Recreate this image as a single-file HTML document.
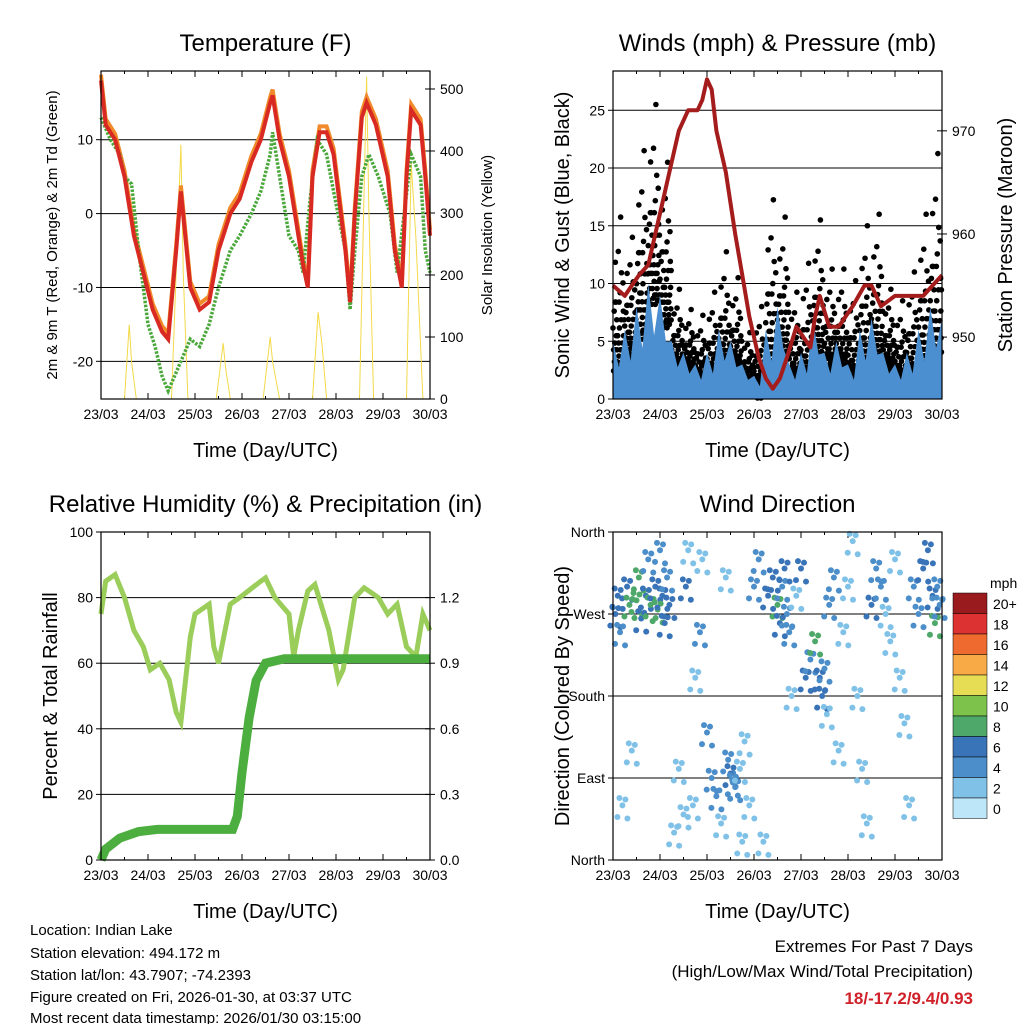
<!DOCTYPE html>
<html><head><meta charset="utf-8"><style>
body{margin:0;background:#fff;}
svg{display:block;font-family:"Liberation Sans",sans-serif;}
</style></head><body>
<svg id="c" width="1024" height="1024" viewBox="0 0 1024 1024" xmlns="http://www.w3.org/2000/svg">
<g id="txt" font-size="15">
<text x="30" y="935">Location: Indian Lake</text>
<text x="30" y="958">Station elevation: 494.172 m</text>
<text x="30" y="980">Station lat/lon: 43.7907; -74.2393</text>
<text x="30" y="1002">Figure created on Fri, 2026-01-30, at 03:37 UTC</text>
<text x="30" y="1023">Most recent data timestamp: 2026/01/30 03:15:00</text>
</g>
<g font-size="17" text-anchor="end">
<text x="973" y="952">Extremes For Past 7 Days</text>
<text x="973" y="977">(High/Low/Max Wind/Total Precipitation)</text>
<text x="973" y="1004" fill="#d0202a" font-weight="bold">18/-17.2/9.4/0.93</text>
</g>
</svg>
<script>
// ---- data ----
const dayLabels=["23/03","24/03","25/03","26/03","27/03","28/03","29/03","30/03"];
const tT=[0,0.1,0.3,0.5,0.7,0.9,1.1,1.3,1.43,1.6,1.7,1.9,2.1,2.3,2.5,2.75,2.95,3.2,3.4,3.6,3.65,3.8,4.0,4.1,4.3,4.4,4.5,4.65,4.8,4.95,5.2,5.3,5.4,5.55,5.65,5.85,6.1,6.25,6.4,6.5,6.6,6.8,6.9,7.0];
const tempRed=[18,12,10,5,-3,-8,-13,-16,-17,-5,3,-10,-13,-12,-5,0,2,7,10,15,16,10,5,1,-7,-10,5,11,11,8,-5,-12,0,13,15,12,5,-5,-10,5,14,12,5,-3];
const tG=[0,0.2,0.4,0.5,0.65,0.8,1.0,1.15,1.3,1.43,1.7,1.9,2.1,2.3,2.5,2.75,2.95,3.2,3.4,3.6,3.65,3.8,4.0,4.2,4.3,4.45,4.6,4.8,4.95,5.2,5.3,5.4,5.55,5.7,5.9,6.15,6.3,6.45,6.6,6.8,6.9,7.0];
const tempGreen=[13,10,8,5,4,-5,-15,-18,-22,-24,-20,-17,-18,-15,-10,-5,-3,0,3,8,11,5,-3,-5,-8,2,10,8,3,-5,-13,-5,5,8,5,0,-8,0,8,5,-5,-8];
const solT=[0.5,0.6,0.65,0.75,1.5,1.7,1.75,1.85,2.45,2.6,2.65,2.75,3.45,3.6,3.65,3.8,4.5,4.62,4.7,4.8,5.5,5.65,5.7,5.8,6.5,6.6,6.7,6.85];
const solar=[0,120,60,0,0,410,200,0,0,90,50,0,0,100,60,0,0,140,90,0,0,520,300,0,0,380,260,0];
const presT=[0,0.25,0.4,0.55,0.75,0.9,1.05,1.2,1.4,1.6,1.8,1.9,2.0,2.1,2.2,2.4,2.6,2.75,2.9,3.1,3.25,3.4,3.55,3.7,3.9,4.05,4.2,4.3,4.4,4.6,4.8,5.1,5.35,5.5,5.7,6.0,6.3,6.6,6.8,7.0];
const pressure=[955,954,955,956,957,960,963,966,970,972,972,973,975,974,970,966,960,956,952,948,946,945,946,948,951,950,949,952,954,951,951,953,955,955,953,954,954,954,955,956];
const gT=[0,0.25,0.5,0.75,1.0,1.25,1.5,1.75,2.0,2.25,2.5,2.75,3.0,3.25,3.5,3.75,4.0,4.25,4.5,4.75,5.0,5.25,5.5,5.75,6.0,6.25,6.5,6.75,7.0];
const gustHi=[17,12,20,26,24,10,8,7,8,13,12,6,5,17,18,9,10,17,11,12,9,14,18,10,8,10,14,22,19];
const gustLo=[2,3,5,8,6,2,2,1,1,2,2,1,0,2,3,1,1,3,2,2,1,2,3,2,1,1,2,3,3];
const windHi=[5,6,8,10,9,5,4,3,4,6,5,3,2,6,8,3,4,7,4,5,3,6,7,4,3,4,6,8,7];
const rhT=[0,0.1,0.3,0.5,0.7,0.9,1.05,1.25,1.45,1.6,1.7,1.8,1.9,2.0,2.3,2.4,2.5,2.75,2.95,3.4,3.5,3.7,4.0,4.1,4.2,4.4,4.55,4.85,5.05,5.15,5.4,5.6,5.9,6.1,6.3,6.5,6.7,6.85,7.0];
const rh=[75,85,87,80,70,65,58,60,55,45,42,55,68,75,78,65,60,78,80,85,86,80,75,62,70,82,84,70,55,58,80,83,80,75,78,65,62,75,70];
const prT=[0,0.1,0.4,0.8,1.2,2.0,2.8,2.9,3.0,3.15,3.3,3.5,3.9,7.0];
const precip=[0,0.05,0.1,0.13,0.14,0.14,0.14,0.2,0.4,0.65,0.82,0.9,0.92,0.92];
const wdT=[0.05,0.1,0.15,0.2,0.3,0.35,0.4,0.5,0.55,0.6,0.7,0.75,0.8,0.9,0.95,1.0,1.05,1.1,1.15,1.2,1.3,1.4,1.5,1.55,1.6,1.7,1.75,1.85,1.9,2.0,2.1,2.2,2.3,2.4,2.45,2.5,2.55,2.6,2.7,2.75,2.8,2.9,3.0,3.1,3.2,3.3,3.4,3.5,3.55,3.6,3.65,3.7,3.75,3.8,3.9,4.0,4.1,4.2,4.3,4.4,4.45,4.5,4.55,4.6,4.7,4.8,4.9,5.0,5.1,5.2,5.3,5.4,5.5,5.6,5.7,5.8,5.9,6.0,6.1,6.2,6.3,6.4,6.5,6.6,6.7,6.8,6.85,6.9,6.95];
const wdDir=[270,290,250,60,300,280,120,285,310,265,290,330,280,300,275,340,290,260,310,280,30,100,50,300,340,60,200,250,330,140,90,70,40,310,110,95,85,80,100,20,130,60,300,330,20,290,310,280,260,300,320,270,250,180,290,320,200,220,240,200,180,210,160,280,310,120,250,300,350,180,100,40,280,320,300,270,240,330,200,150,60,300,270,320,340,290,260,300,280];
const wdSpd=[5,6,4,1,6,7,1,8,7,6,5,4,7,6,8,3,5,5,4,6,1,1,1,6,2,1,1,4,2,4,4,3,2,2,4,5,4,3,2,1,1,1,4,3,1,6,5,7,5,4,5,3,4,2,2,5,5,4,7,6,5,3,2,4,4,1,1,2,2,1,1,1,5,4,3,2,1,2,1,1,1,4,4,6,5,5,7,4,3];
const spdColors=["#bde6f8","#80c1e8","#4c8ec9","#3a74b8","#4ea869","#7dc24b","#e6dd55","#f8aa47","#ee6a2e","#dc3232","#bd2127","#9a1b1e"];
const spdLabels=["0","2","4","6","8","10","12","14","16","18","20+"];

// ---- helpers ----
const svg=document.getElementById('c');const NS="http://www.w3.org/2000/svg";
function el(tag,attrs,parent,text){const e=document.createElementNS(NS,tag);for(const k in attrs)e.setAttribute(k,attrs[k]);if(text!==undefined)e.textContent=text;(parent||svg).appendChild(e);return e;}
function lin(d0,d1,r0,r1){return v=>r0+(v-d0)/(d1-d0)*(r1-r0);}
function panel(name,x0,y0,w,h,title,ylab,y2lab){
 const g=el('g',{});
 
 
 const t=el('text',{x:x0+w/2,y:y0-20,'font-size':24,'text-anchor':'middle'},g,title);
 
 
 const xl=el('text',{x:x0+w/2,y:y0+h+58,'font-size':20,'text-anchor':'middle'},g,'Time (Day/UTC)');
 
 
 const yl=el('text',{transform:`translate(${x0-44},${y0+h/2}) rotate(-90)`,'font-size':ylab.s||20,'text-anchor':'middle'},g,ylab.t);
 
 
 if(y2lab){const y2=el('text',{transform:`translate(${x0+w+y2lab.d},${y0+h/2}) rotate(-90)`,'font-size':y2lab.s,'text-anchor':'middle'},g,y2lab.t);
 
 }
 const X=lin(0,7,x0,x0+w);
 dayLabels.forEach((d,i)=>{const lx=el('text',{x:X(i),y:y0+h+20,'font-size':14,'text-anchor':'middle'},g,d);
  
  
  el('line',{x1:X(i),x2:X(i),y1:y0+h,y2:y0+h-6,stroke:'#000'},g);el('line',{x1:X(i),x2:X(i),y1:y0,y2:y0+6,stroke:'#000'},g);
  if(i<7){el('line',{x1:X(i+0.5),x2:X(i+0.5),y1:y0+h,y2:y0+h-3,stroke:'#000'},g);el('line',{x1:X(i+0.5),x2:X(i+0.5),y1:y0,y2:y0+3,stroke:'#000'},g);}
 });
 return {g,X};
}
function grid(g,x0,w,Y,vals,labels,side){vals.forEach((v,i)=>{const y=Y(v);
 if(side==='L'){el('line',{x1:x0,x2:x0+w,y1:y,y2:y,stroke:'#000','stroke-width':1},g);el('line',{x1:x0-5,x2:x0,y1:y,y2:y,stroke:'#000'},g);
  const l=el('text',{x:x0-8,y:y+5,'font-size':14,'text-anchor':'end'},g,labels[i]);}
 else{el('line',{x1:x0+w,x2:x0+w+5,y1:y,y2:y,stroke:'#000'},g);el('line',{x1:x0+w-5,x2:x0+w,y1:y,y2:y,stroke:'#000'},g);
  const l=el('text',{x:x0+w+10,y:y+5,'font-size':14},g,labels[i]);}
});}
function path(X,Y,ts,vs){return ts.map((t,i)=>(i?'L':'M')+X(t).toFixed(1)+','+Y(vs[i]).toFixed(1)).join('');}
function frame(g,x0,y0,w,h){el('rect',{x:x0,y:y0,width:w,height:h,fill:'none',stroke:'#000','stroke-width':1.2},g);}

// ---- Panel 1: Temperature ----
(function(){const x0=101,y0=71,w=329,h=328;
 const p=panel('temperature-panel',x0,y0,w,h,'Temperature (F)',{t:'2m & 9m T (Red, Orange) & 2m Td (Green)',s:15},{t:'Solar Insolation (Yellow)',d:62,s:15});
 const g=p.g,X=p.X;const Y=lin(-25.1,19.3,y0+h,y0);const Y2=lin(0,529,y0+h,y0);
 grid(g,x0,w,Y,[-20,-10,0,10],['-20','-10','0','10'],'L');
 grid(g,x0,w,Y2,[0,100,200,300,400,500],['0','100','200','300','400','500'],'R');
 const s=el('path',{d:path(X,Y2,solT,solar),fill:'none',stroke:'#f3d94a','stroke-width':1},g);
 
 const o=el('path',{d:path(X,Y,tT,tempRed.map(v=>v+0.8)),fill:'none',stroke:'#f08a2a','stroke-width':4},g);
 
 const gr=el('path',{d:path(X,Y,tG,tempGreen),fill:'none',stroke:'#4aa83a','stroke-width':3.5,'stroke-dasharray':'2.5 1.5'},g);
 
 const r=el('path',{d:path(X,Y,tT,tempRed),fill:'none',stroke:'#d82a22','stroke-width':4},g);
 
 frame(g,x0,y0,w,h);})();

// ---- Panel 2: Winds ----
(function(){const x0=613,y0=71,w=329,h=328;
 const p=panel('winds-panel',x0,y0,w,h,'Winds (mph) & Pressure (mb)',{t:'Sonic Wind & Gust (Blue, Black)',s:20},{t:'Station Pressure (Maroon)',d:70,s:20});
 const g=p.g,X=p.X;const Y=lin(0,28.4,y0+h,y0);const Y2=lin(944,975.8,y0+h,y0);
 grid(g,x0,w,Y,[0,5,10,15,20,25],['0','5','10','15','20','25'],'L');
 grid(g,x0,w,Y2,[950,960,970],['950','960','970'],'R');
 const pat=[[0.05,0.1],[0.15,0.35],[0.25,0.6],[0.35,0.2],[0.45,0.85],[0.55,0.45],[0.65,1.0],[0.75,0.3],[0.85,0.7],[0.95,0.15],[0.1,0.55],[0.3,0.05],[0.4,0.4],[0.5,0.25],[0.6,0.65],[0.7,0.5],[0.8,0.1],[0.9,0.4],[0.2,0.8],[0.6,0.05],[0.05,0.3],[0.35,0.3],[0.55,0.15],[0.75,0.2],[0.95,0.5],
  [0.0,0.45],[0.12,0.2],[0.22,0.3],[0.32,0.5],[0.42,0.12],[0.52,0.6],[0.62,0.3],[0.72,0.75],[0.82,0.35],[0.92,0.25],[0.18,0.6],[0.48,0.35],[0.68,0.15],[0.88,0.55],[0.28,0.4]];
 const pts=el('g',{fill:'#000'},g);
 
 gT.forEach((t,i)=>{if(i===gT.length-1)return;const xa=X(t),xb=X(gT[i+1]);
  const lo=gustLo[i],hi=(gustHi[i]+gustHi[i+1])/2*0.5+gustHi[i]*0.5;
  pat.forEach(q=>{const v=lo+(hi-lo)*Math.pow(q[1],1.5);
   el('circle',{cx:xa+(xb-xa)*q[0],cy:Y(v),r:2.8},pts);});
 });
 const wt=[];const wv=[];gT.forEach((t,i)=>{wt.push(t);wv.push(windHi[i]);if(i<gT.length-1){wt.push(t+0.125);wv.push(windHi[i]*0.55);}});
 const a=el('path',{d:path(X,Y,wt,wv)+`L${X(7)},${Y(0)}L${X(0)},${Y(0)}Z`,fill:'#4b8fd0'},g);
 
 const pr=el('path',{d:path(X,Y2,presT,pressure),fill:'none',stroke:'#a51c1c','stroke-width':4,'stroke-linejoin':'round'},g);
 
 frame(g,x0,y0,w,h);})();

// ---- Panel 3: RH ----
(function(){const x0=101,y0=532,w=329,h=328;
 const p=panel('humidity-panel',x0,y0,w,h,'Relative Humidity (%) & Precipitation (in)',{t:'Percent & Total Rainfall',s:20},null);
 const g=p.g,X=p.X;const Y=lin(0,100,y0+h,y0);const Y2=lin(0,1.5,y0+h,y0);
 grid(g,x0,w,Y,[0,20,40,60,80,100],['0','20','40','60','80','100'],'L');
 grid(g,x0,w,Y2,[0,0.3,0.6,0.9,1.2],['0.0','0.3','0.6','0.9','1.2'],'R');
 const r=el('path',{d:path(X,Y,rhT,rh),fill:'none',stroke:'#9acd5a','stroke-width':5},g);
 
 const pc=el('path',{d:path(X,Y2,prT,precip),fill:'none',stroke:'#4cae3e','stroke-width':9},g);
 
 frame(g,x0,y0,w,h);})();

// ---- Panel 4: Wind direction ----
(function(){const x0=613,y0=532,w=329,h=328;
 const p=panel('wind-direction-panel',x0,y0,w,h,'Wind Direction',{t:'Direction (Colored By Speed)',s:20},null);
 const g=p.g,X=p.X;const Y=lin(0,360,y0+h,y0);
 grid(g,x0,w,Y,[0,90,180,270,360],['North','East','South','West','North'],'L');
 const offs=[[0,0],[3,8],[-3,-10],[5,-18],[-5,16]];
 wdT.forEach((t,i)=>{offs.forEach((o,j)=>{const d=wdDir[i]+o[1]*(j%2?1:-1)*0.8;if(d<0||d>360)return;
  const c=el('circle',{cx:X(t)+o[0],cy:Y(d),r:3,fill:spdColors[Math.min(11,Math.round(wdSpd[i]/2))]},g);
  });});
 frame(g,x0,y0,w,h);
 const lg=el('g',{});
 
 el('text',{x:990,y:588,'font-size':14},lg,'mph');
 const bh=20.5,by=593;
 for(let i=0;i<11;i++){
  const yy=by+i*bh;el('rect',{x:953,y:yy,width:34,height:bh,fill:i===0?spdColors[11]:spdColors[10-i],stroke:'#000','stroke-width':0.5},lg);
  const l=el('text',{x:993,y:yy+16,'font-size':14},lg,spdLabels[10-i]);}
})();
</script>
</body></html>
